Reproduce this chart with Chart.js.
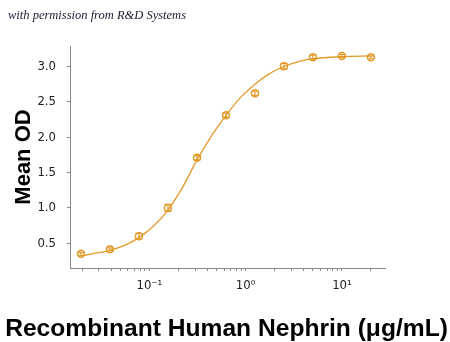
<!DOCTYPE html>
<html>
<head>
<meta charset="utf-8">
<script src="https://cdn.jsdelivr.net/npm/chart.js@4/dist/chart.umd.min.js"></script>
<style>
  html, body { margin: 0; padding: 0; background: #fff; }
  #wrap { position: relative; width: 450px; height: 342px; }
  #note {
    position: absolute; left: 8px; top: 8px;
    font: italic 12.5px "Liberation Serif", "DejaVu Serif", serif;
    color: #1a1a2e;
  }
</style>
</head>
<body>
<div id="wrap">
  <canvas id="c" width="450" height="342"></canvas>
  <div id="note">with permission from R&amp;D Systems</div>
</div>
<script>
// concentrations (ug/mL), 2-fold dilution series
var conc = [0.0195, 0.039, 0.078, 0.156, 0.3125, 0.625, 1.25, 2.5, 5, 10, 20];
var meanOD = [0.35, 0.415, 0.60, 1.00, 1.71, 2.31, 2.62, 3.005, 3.13, 3.15, 3.13];
var errOD = [0.02, 0.02, 0.04, 0.05, 0.03, 0.03, 0.03, 0.04, 0.03, 0.02, 0.02];

// fitted curve
var fitX = [0.0195, 0.0276, 0.039, 0.0552, 0.078, 0.11, 0.156, 0.221, 0.3125, 0.442, 0.625, 0.884, 1.25, 1.77, 2.5, 3.54, 5, 10, 20];
var fitY = [0.32, 0.36, 0.40, 0.47, 0.58, 0.74, 0.97, 1.29, 1.68, 2.02, 2.31, 2.56, 2.75, 2.90, 3.00, 3.07, 3.11, 3.14, 3.15];

var yTicks = [0.5, 1.0, 1.5, 2.0, 2.5, 3.0];
var xMajor = { 0.1: '10\u207B\u00B9', 1: '10\u2070', 10: '10\u00B9' };
var xTitle = 'Recombinant Human Nephrin (\u03BCg/mL)';

var orange = '#e39a28';
var narrow = '"DejaVu Sans Condensed", "Liberation Sans Narrow", sans-serif';
var bold = '"Liberation Sans", Arimo, sans-serif';

function xTickValues() {
  var out = [];
  for (var e = -2; e <= 1; e++) {
    for (var m = 1; m <= 9; m++) {
      var v = +(m * Math.pow(10, e)).toPrecision(3);
      if (v >= 0.015 && v <= 28) out.push(v);
    }
  }
  return out;
}

var errorBars = {
  id: 'errorBars',
  afterDatasetsDraw: function (chart) {
    var xs = chart.scales.x, ys = chart.scales.y, ctx = chart.ctx;
    ctx.save();
    ctx.strokeStyle = orange;
    ctx.lineWidth = 1.2;
    conc.forEach(function (c, i) {
      var px = xs.getPixelForValue(c);
      var top = ys.getPixelForValue(meanOD[i] + errOD[i]);
      var bot = ys.getPixelForValue(meanOD[i] - errOD[i]);
      ctx.beginPath();
      ctx.moveTo(px, top); ctx.lineTo(px, bot);
      ctx.moveTo(px - 3.5, top); ctx.lineTo(px + 3.5, top);
      ctx.moveTo(px - 3.5, bot); ctx.lineTo(px + 3.5, bot);
      ctx.stroke();
    });
    ctx.restore();
  }
};

// the scale title would be squeezed to the plot width, so draw it here
var wideTitle = {
  id: 'wideTitle',
  afterDraw: function (chart) {
    var ctx = chart.ctx;
    ctx.save();
    ctx.font = 'bold 24.6px ' + bold;
    ctx.fillStyle = '#000';
    ctx.textAlign = 'center';
    ctx.textBaseline = 'alphabetic';
    ctx.fillText(xTitle, 226.5, 336);
    ctx.restore();
  }
};

new Chart(document.getElementById('c'), {
  type: 'scatter',
  data: {
    datasets: [{
      data: conc.map(function (c, i) { return { x: c, y: meanOD[i] }; }),
      pointStyle: 'circle',
      pointRadius: 3.5,
      pointBorderWidth: 1.5,
      pointBorderColor: orange,
      pointBackgroundColor: 'rgba(255,255,255,0)',
      showLine: false
    }, {
      data: fitX.map(function (c, i) { return { x: c, y: fitY[i] }; }),
      showLine: true,
      borderColor: orange,
      borderWidth: 1.3,
      pointRadius: 0,
      cubicInterpolationMode: 'monotone'
    }]
  },
  options: {
    responsive: false,
    animation: false,
    layout: { padding: { left: 0, top: 46, right: 65, bottom: 0 } },
    plugins: { legend: { display: false }, tooltip: { enabled: false } },
    scales: {
      x: {
        type: 'logarithmic',
        min: 0.015,
        max: 28,
        afterBuildTicks: function (s) {
          s.ticks = xTickValues().map(function (v) { return { value: v }; });
        },
        afterFit: function (s) { s.height = 74; },
        border: { color: '#8a8a8a', width: 1 },
        grid: { drawOnChartArea: false, tickLength: 3, color: '#8a8a8a' },
        ticks: {
          autoSkip: false,
          maxRotation: 0,
          padding: 7,
          color: '#222',
          font: { family: narrow, size: 13 },
          callback: function (v) { return xMajor[v] || ''; }
        }
      },
      y: {
        min: 0.15,
        max: 3.29,
        afterBuildTicks: function (s) {
          s.ticks = yTicks.map(function (v) { return { value: v }; });
        },
        afterFit: function (s) { s.width = 70; },
        border: { color: '#8a8a8a', width: 1 },
        grid: { drawOnChartArea: false, tickLength: 3, color: '#8a8a8a' },
        ticks: {
          padding: 11,
          color: '#222',
          font: { family: narrow, size: 13 },
          callback: function (v) { return v.toFixed(1); }
        },
        title: {
          display: true,
          text: 'Mean OD',
          color: '#000',
          font: { family: bold, size: 22, weight: 'bold', lineHeight: 1.2 },
          padding: { top: 11, bottom: 0 }
        }
      }
    }
  },
  plugins: [errorBars, wideTitle]
});
</script>
</body>
</html>
